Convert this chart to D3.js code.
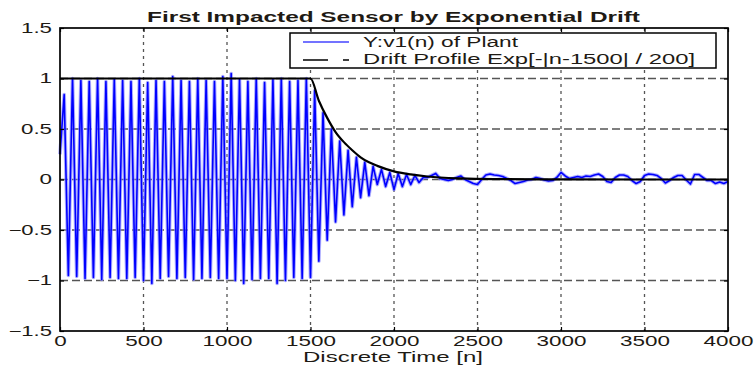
<!DOCTYPE html>
<html>
<head>
<meta charset="utf-8">
<script src="https://cdn.jsdelivr.net/npm/d3@7"></script>
<style>
  body { margin: 0; background: #fff; }
  svg text { font-family: Arial, "Liberation Sans", sans-serif; fill: #1e1a14; }
</style>
</head>
<body>
<svg id="chart" width="755" height="369"></svg>
<script>
// sample spacing of the plant signal (every 25 samples, peaks/troughs)
const SAMPLE_STEP = 25;

const plantSignal = [
  0.25, 0.84, -0.95, 1.0, -0.96, 0.98, -0.98, 0.97, -0.97, 1.0,
  -0.99, 0.97, -0.97, 0.99, -0.98, 0.98, -0.98, 0.97, -0.97, 1.0,
  -1.0, 0.96, -1.03, 0.98, -0.98, 0.97, -0.96, 1.02, -0.98, 0.98,
  -0.97, 0.97, -0.99, 1.0, -0.98, 0.98, -0.97, 0.97, -0.98, 1.02,
  -0.98, 1.05, -1.0, 0.99, -1.03, 0.97, -0.99, 1.0, -0.98, 0.96,
  -0.98, 0.99, -1.03, 1.0, -1.0, 0.97, -0.97, 0.98, -0.98, 1.0,
  -0.97, 0.88, -0.81, 0.66, -0.6, 0.5, -0.42, 0.38, -0.35, 0.29,
  -0.27, 0.22, -0.18, 0.17, -0.16, 0.13, -0.05, 0.1, -0.07, 0.07,
  -0.1, 0.06, -0.07, 0.05, -0.05, 0.04, -0.03, 0.02, 0.02, 0.04,
  0.06, 0.01, 0.0, -0.01, 0.0, 0.02, 0.035, 0.0, -0.02, -0.04,
  -0.05, 0.0, 0.045, 0.055, 0.045, 0.04, 0.03, 0.01, -0.01, -0.04,
  -0.03, -0.02, -0.005, 0.0, 0.02, 0.01, -0.005, -0.015, -0.01, 0.02,
  0.07, 0.035, 0.01, 0.02, 0.03, 0.02, 0.035, 0.03, 0.045, 0.055,
  0.03, -0.02, -0.03, 0.02, 0.045, 0.045, 0.03, -0.01, -0.04, -0.02,
  0.04, 0.055, 0.05, 0.04, 0.01, -0.035, -0.01, 0.02, 0.04, 0.04,
  -0.005, -0.045, 0.05, 0.05, 0.02, -0.01, -0.01, -0.04, -0.025, -0.04,
  -0.02
];

const driftN = [0, 1500, 1550, 1600, 1650, 1700, 1750, 1800, 1850, 1900, 2000, 2100, 2200, 2400, 2600, 3000, 4000];
const driftValue = [1, 1, 0.78, 0.61, 0.47, 0.37, 0.29, 0.22, 0.17, 0.135, 0.08, 0.05, 0.03, 0.011, 0.004, 0.0006, 0];

const xTicks = [0, 500, 1000, 1500, 2000, 2500, 3000, 3500, 4000];
const yTicks = [-1.5, -1, -0.5, 0, 0.5, 1, 1.5];

const titleText = 'First Impacted Sensor by Exponential Drift';
const xLabelText = 'Discrete Time [n]';
const legendLabels = ['Y:v1(n) of Plant', 'Drift Profile Exp[-|n-1500| / 200]'];

let plotLeft = 60, plotRight = 728, plotTop = 28, plotBottom = 331;

let x = d3.scaleLinear().domain([0, 4000]).range([plotLeft, plotRight]);
let y = d3.scaleLinear().domain([-1.5, 1.5]).range([plotBottom, plotTop]);

let svg = d3.select('#chart');

// the source picture is squashed wide, so every text gets stretched to a set width
function stretchTo(sel, width) {
  sel.attr('textLength', width).attr('lengthAdjust', 'spacingAndGlyphs');
}
function labelWidth(s) {
  let w = 0;
  for (let ch of s) w += ch === '.' ? 6 : ch === '-' ? 8 : 12.5;
  return w;
}

// grid
svg.append('g')
  .selectAll('line')
  .data(xTicks.slice(1, -1))
  .join('line')
    .attr('x1', d => x(d)).attr('x2', d => x(d))
    .attr('y1', plotTop).attr('y2', plotBottom)
    .attr('stroke', '#555')
    .attr('stroke-width', 1.3)
    .attr('stroke-dasharray', '3,4');

svg.append('g')
  .selectAll('line')
  .data(yTicks.slice(1, -1))
  .join('line')
    .attr('x1', plotLeft).attr('x2', plotRight)
    .attr('y1', d => y(d)).attr('y2', d => y(d))
    .attr('stroke', '#555')
    .attr('stroke-width', 1.3)
    .attr('stroke-dasharray', '8,4');

// signal: a soft wide stroke under the line gives the blurred look of the scan
let signalLine = d3.line()
  .x((d, i) => x(i * SAMPLE_STEP))
  .y(d => y(d));

svg.append('path')
  .datum(plantSignal)
  .attr('d', signalLine)
  .attr('fill', 'none')
  .attr('stroke', '#8c8cff')
  .attr('stroke-width', 3.6)
  .attr('stroke-opacity', 0.7)
  .attr('stroke-linejoin', 'round');

svg.append('path')
  .datum(plantSignal)
  .attr('d', signalLine)
  .attr('fill', 'none')
  .attr('stroke', '#0000ff')
  .attr('stroke-width', 1.6)
  .attr('stroke-linejoin', 'round');

let driftLine = d3.line()
  .x((d, i) => x(driftN[i]))
  .y(d => y(d))
  .curve(d3.curveMonotoneX);

svg.append('path')
  .datum(driftValue)
  .attr('d', driftLine)
  .attr('fill', 'none')
  .attr('stroke', '#000')
  .attr('stroke-width', 2.2);

// axes
let fmt = d => d3.format('')(d);

svg.append('g')
  .attr('transform', `translate(0,${plotBottom})`)
  .call(d3.axisBottom(x).tickValues(xTicks).tickFormat(fmt).tickSizeInner(-4).tickSizeOuter(0).tickPadding(5));

svg.append('g')
  .attr('transform', `translate(${plotLeft},0)`)
  .call(d3.axisLeft(y).tickValues(yTicks).tickFormat(fmt).tickSizeInner(-4).tickSizeOuter(0).tickPadding(8));

svg.append('g')
  .attr('transform', `translate(0,${plotTop})`)
  .call(d3.axisTop(x).tickValues(xTicks).tickFormat('').tickSizeInner(-4).tickSizeOuter(0));

svg.append('g')
  .attr('transform', `translate(${plotRight},0)`)
  .call(d3.axisRight(y).tickValues(yTicks).tickFormat('').tickSizeInner(-4).tickSizeOuter(0));

svg.selectAll('.tick line').attr('stroke', '#000').attr('stroke-width', 1.2);
svg.selectAll('.domain').remove();
svg.selectAll('.tick text')
  .attr('font-size', 14)
  .attr('fill', '#1e1a14')
  .style('font-family', 'Arial, "Liberation Sans", sans-serif')
  .each(function() {
    let s = d3.select(this).text();
    if (s) stretchTo(d3.select(this), labelWidth(s));
  });

svg.append('rect')
  .attr('x', plotLeft).attr('y', plotTop)
  .attr('width', plotRight - plotLeft).attr('height', plotBottom - plotTop)
  .attr('fill', 'none')
  .attr('stroke', '#000')
  .attr('stroke-width', 1.7);

// title and label
svg.append('text')
  .attr('x', 393.5).attr('y', 22)
  .attr('text-anchor', 'middle')
  .attr('font-size', 14)
  .attr('font-weight', 'bold')
  .text(titleText)
  .call(stretchTo, 493);

svg.append('text')
  .attr('x', 393).attr('y', 362)
  .attr('text-anchor', 'middle')
  .attr('font-size', 14)
  .text(xLabelText)
  .call(stretchTo, 180);

// legend
let legend = svg.append('g');

legend.append('rect')
  .attr('x', 290).attr('y', 33)
  .attr('width', 426).attr('height', 35)
  .attr('fill', '#fff')
  .attr('stroke', '#000')
  .attr('stroke-width', 1.5);

legend.append('line')
  .attr('x1', 303).attr('x2', 349)
  .attr('y1', 42).attr('y2', 42)
  .attr('stroke', '#4444ff')
  .attr('stroke-width', 1.4);

legend.append('line')
  .attr('x1', 303).attr('x2', 349)
  .attr('y1', 60).attr('y2', 60)
  .attr('stroke', '#000')
  .attr('stroke-width', 1.4)
  .attr('stroke-dasharray', '25,15,6');

let legendWidths = [155, 332];

legend.selectAll('text')
  .data(legendLabels)
  .join('text')
    .attr('x', 363)
    .attr('y', (d, i) => 47 + i * 17)
    .attr('font-size', 14)
    .text(d => d)
    .attr('textLength', (d, i) => legendWidths[i])
    .attr('lengthAdjust', 'spacingAndGlyphs');
</script>
</body>
</html>
